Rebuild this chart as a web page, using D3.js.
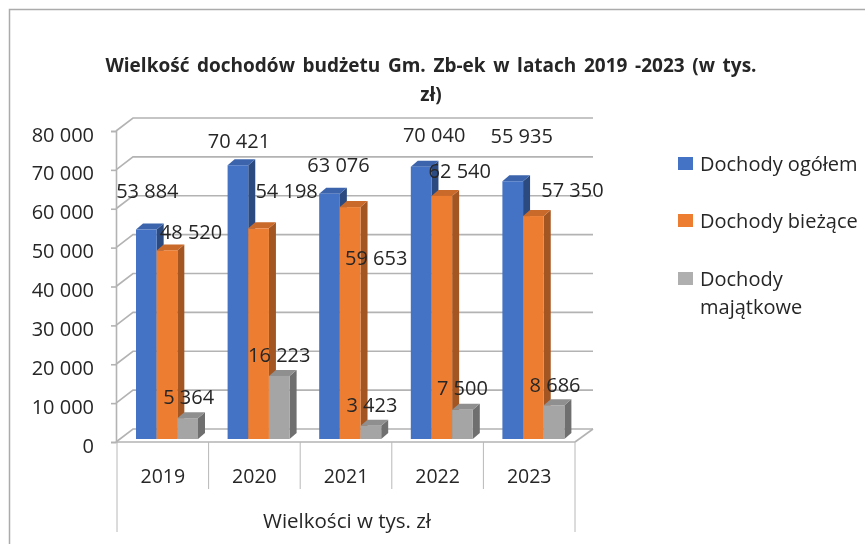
<!DOCTYPE html>
<html>
<head>
<meta charset="utf-8">
<style>
    body { margin: 0; background: #fff; }
    svg { display: block; filter: blur(0.35px); }
    text { font-family: "Open Sans", sans-serif; fill: #262626; }
</style>
<script src="https://cdn.jsdelivr.net/npm/d3@7"></script>
</head>
<body>
<svg id="chart"></svg>
<script>
var years = ["2019", "2020", "2021", "2022", "2023"];
var seriesNames = ["Dochody ogółem", "Dochody bieżące", "Dochody majątkowe"];

// bar heights as drawn
var ogolem = [53884, 70421, 63076, 70040, 66300];
var biezace = [48520, 54198, 59653, 62540, 57350];
var majatkowe = [5364, 16223, 3423, 7500, 8686];

// printed labels, the 2023 blue one does not agree with its bar in the original
var ogolemLabels = [53884, 70421, 63076, 70040, 55935];
var biezaceLabels = [48520, 54198, 59653, 62540, 57350];
var majatkoweLabels = [5364, 16223, 3423, 7500, 8686];

var yTickValues = [0, 10000, 20000, 30000, 40000, 50000, 60000, 70000, 80000];

var titleLines = ["Wielkość dochodów budżetu Gm. Zb-ek w latach 2019 -2023 (w tys.", "zł)"];
var axisTitle = "Wielkości w tys. zł";

var width = 865,
    height = 544,
    gridColor = "#b3b3b3",
    depthX = 17, depthY = 13,   // offset of the back wall
    barDepthX = 7, barDepthY = 6;

var colors = [
    {front: "#4472c4", top: "#3b64ad", side: "#2b4a80"},
    {front: "#ed7d31", top: "#c9692a", side: "#a35622"},
    {front: "#a5a5a5", top: "#8f8f8f", side: "#6f6f6f"}
];

var values = [ogolem, biezace, majatkowe],
    labels = [ogolemLabels, biezaceLabels, majatkoweLabels];

// the labels were dragged by hand in the original, offsets from the bar's top centre
var labelOffsets = [
    [[1, -32], [1, -17], [9, -22], [13, -25], [9, -38]],
    [[24, -11], [28, -30], [26, 58], [18, -18], [39, -19]],
    [[1, -14], [0, -14], [1, -14], [0, -15], [1, -13]]
];

var numFormat = function(d) { return d3.format(",")(d).replace(/,/g, " "); };

var x0 = d3.scaleBand().domain(years).range([117, 575]),
    x1 = d3.scaleBand().domain(d3.range(3)).range([19, 81]),
    y = d3.scaleLinear().domain([0, 80000]).range([442, 131]);

var svg = d3.select("#chart").attr("width", width).attr("height", height);

// outer frame
svg.append("path")
    .attr("d", "M9.5," + height + "V9.5H" + width)
    .attr("fill", "none").attr("stroke", "#ababab").attr("stroke-width", 1.5);

// back wall gridlines with the slanted bit on the left wall
var grid = svg.append("g").attr("fill", "none").attr("stroke", gridColor).attr("stroke-width", 1.6);
yTickValues.forEach(function(v) {
    grid.append("path").attr("d", "M116," + y(v) + "L" + (116 + depthX) + "," + (y(v) - depthY) + "H593");
});
grid.append("path").attr("d", "M575," + y(0) + "L593," + (y(0) - depthY));

// y axis
var yAxis = svg.append("g")
    .attr("transform", "translate(116,0)")
    .call(d3.axisLeft(y).tickValues(yTickValues).tickFormat(numFormat).tickSize(5).tickPadding(17));
yAxis.selectAll("path, line").attr("stroke", gridColor).attr("stroke-width", 1.6);
yAxis.selectAll("text").attr("font-size", 20).attr("dy", "0.5em");
yAxis.attr("font-family", null);

// bars, the base sits a little behind the front edge of the floor
var barBase = -3;
var bw = x1.bandwidth();
values.forEach(function(vals, s) {
    var g = svg.append("g").attr("class", "series");
    var bars = g.selectAll("g").data(vals).enter().append("g")
        .attr("transform", function(d, i) { return "translate(" + (x0(years[i]) + x1(s)) + "," + barBase + ")"; });
    bars.append("path")
        .attr("fill", colors[s].side)
        .attr("d", function(d) {
            return "M" + bw + "," + y(d) + "l" + barDepthX + "," + (-barDepthY) +
                "V" + (y(0) - barDepthY) + "L" + bw + "," + y(0) + "Z";
        });
    bars.append("path")
        .attr("fill", colors[s].top)
        .attr("d", function(d) {
            return "M0," + y(d) + "l" + barDepthX + "," + (-barDepthY) + "H" + (bw + barDepthX) + "L" + bw + "," + y(d) + "Z";
        });
    bars.append("rect")
        .attr("fill", colors[s].front)
        .attr("width", bw)
        .attr("y", function(d) { return y(d); })
        .attr("height", function(d) { return y(0) - y(d); });
});

// floor front edge in front of the bars
svg.append("line")
    .attr("x1", 116).attr("x2", 575).attr("y1", y(0)).attr("y2", y(0))
    .attr("stroke", gridColor).attr("stroke-width", 1.6);

// data labels on top of everything
values.forEach(function(vals, s) {
    svg.append("g").selectAll("text").data(vals).enter().append("text")
        .attr("font-size", 20)
        .attr("text-anchor", "middle")
        .attr("x", function(d, i) { return x0(years[i]) + x1(s) + bw / 2 + labelOffsets[s][i][0]; })
        .attr("y", function(d, i) { return y(d) + barBase + labelOffsets[s][i][1]; })
        .text(function(d, i) { return numFormat(labels[s][i]); });
});

// category table under the plot
var dividers = svg.append("g").attr("stroke", "#b8b8b8").attr("stroke-width", 1);
years.forEach(function(yr, i) {
    dividers.append("line").attr("x1", x0(yr)).attr("x2", x0(yr))
        .attr("y1", y(0)).attr("y2", i === 0 ? 532 : 489);
});
dividers.append("line").attr("x1", x0.range()[1]).attr("x2", x0.range()[1])
    .attr("y1", y(0)).attr("y2", 532);

var xAxis = svg.append("g")
    .attr("transform", "translate(0,483)")
    .call(d3.axisBottom(x0).tickSize(0).tickPadding(0));
xAxis.select(".domain").remove();
xAxis.selectAll("text").attr("font-size", 19.5).attr("y", 0).attr("dy", 0);
xAxis.attr("font-family", null);

svg.append("text")
    .attr("x", 347).attr("y", 528)
    .attr("font-size", 20.5)
    .attr("text-anchor", "middle")
    .text(axisTitle);

// title
svg.append("g").selectAll("text").data(titleLines).enter().append("text")
    .attr("x", 431)
    .attr("y", function(d, i) { return 72 + i * 29; })
    .attr("text-anchor", "middle")
    .attr("font-size", 19)
    .attr("font-weight", "bold")
    .attr("word-spacing", 2.7)
    .text(function(d) { return d; });

// legend
var legendRows = [
    {lines: ["Dochody ogółem"], top: 157},
    {lines: ["Dochody bieżące"], top: 214},
    {lines: ["Dochody", "majątkowe"], top: 272}
];
var legend = svg.append("g").selectAll("g").data(legendRows).enter().append("g")
    .attr("transform", function(d) { return "translate(678," + d.top + ")"; });
legend.append("rect")
    .attr("width", 15).attr("height", 13)
    .attr("fill", function(d, i) { return i === 2 ? "#afafaf" : colors[i].front; });
legend.selectAll("text").data(function(d) { return d.lines; }).enter().append("text")
    .attr("x", 22)
    .attr("y", function(d, i) { return 14 + i * 28; })
    .attr("font-size", 20)
    .text(function(d) { return d; });
</script>
</body>
</html>
